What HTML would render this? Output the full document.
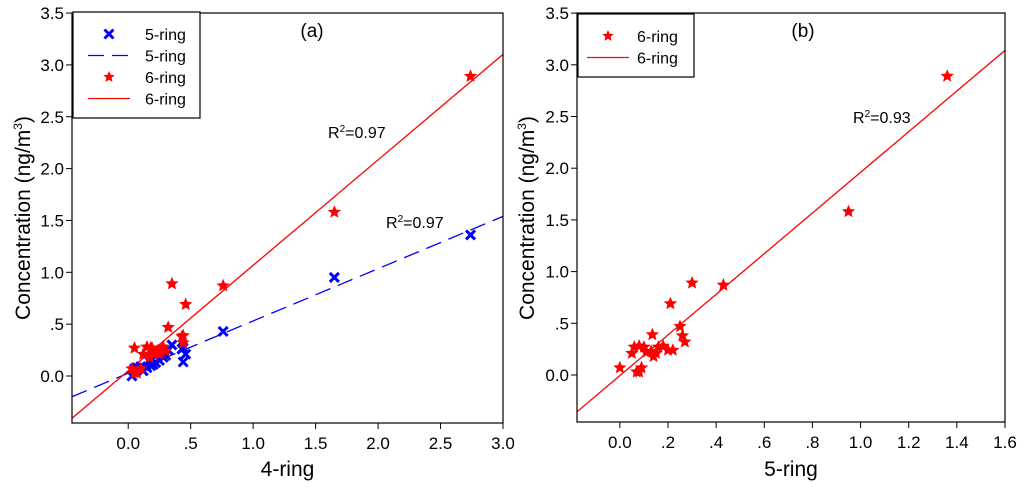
<!DOCTYPE html>
<html><head><meta charset="utf-8"><style>
body{margin:0;background:#fff;width:1024px;height:490px;overflow:hidden}
svg{font-family:"Liberation Sans",Arial,sans-serif}
</style></head><body>
<svg id="c" width="1024" height="490" xmlns="http://www.w3.org/2000/svg"></svg>
<script>
// data: each sample has 4-ring, 5-ring, 6-ring concentration
const ring4 = [0.03,0.05,0.07,0.10,0.12,0.05,0.15,0.18,0.20,0.22,0.17,0.25,0.19,0.28,0.30,0.24,0.44,0.32,0.43,0.44,0.46,0.35,0.76,1.65,2.74];
const ring5 = [0.00,0.07,0.08,0.09,0.05,0.06,0.08,0.10,0.11,0.13,0.14,0.15,0.16,0.18,0.20,0.22,0.135,0.25,0.26,0.27,0.21,0.30,0.43,0.95,1.36];
const ring6 = [0.07,0.03,0.03,0.07,0.21,0.27,0.28,0.27,0.22,0.23,0.18,0.21,0.27,0.28,0.24,0.24,0.39,0.47,0.38,0.32,0.69,0.89,0.87,1.58,2.89];
const fitA6 = [1.017,0.05];   // slope, intercept 6-ring vs 4-ring
const fitA5 = [0.504,0.027];
const fitB6 = [1.966,-0.006];
const yTicks = [0,0.5,1,1.5,2,2.5,3,3.5];
const yTickLabels = ["0.0",".5","1.0","1.5","2.0","2.5","3.0","3.5"];
const xTicksA = [0,0.5,1,1.5,2,2.5,3];
const xTickLabelsA = ["0.0",".5","1.0","1.5","2.0","2.5","3.0"];
const xTicksB = [0,0.2,0.4,0.6,0.8,1.0,1.2,1.4,1.6];
const xTickLabelsB = ["0.0",".2",".4",".6",".8","1.0","1.2","1.4","1.6"];

const svg=document.getElementById('c');
const NS='http://www.w3.org/2000/svg';
function mk(tag,attrs,parent,text){const e=document.createElementNS(NS,tag);for(const k in attrs)e.setAttribute(k,attrs[k]);if(text!==undefined)e.textContent=text;(parent||svg).appendChild(e);return e;}
function star(g,cx,cy,r){let p=[];for(let i=0;i<10;i++){const a=-Math.PI/2+i*Math.PI/5;const rr=i%2?r*0.45:r;p.push((cx+rr*Math.cos(a)).toFixed(1)+','+(cy+rr*Math.sin(a)).toFixed(1));}
 const s=mk('polygon',{points:p.join(' '),fill:'#f00'},g);
 
 }
function cross(g,cx,cy,r){const s=mk('path',{d:`M${cx-r},${cy-r}L${cx+r},${cy+r}M${cx-r},${cy+r}L${cx+r},${cy-r}`,stroke:'#00f','stroke-width':3},g);
 
 }

function panel(o){
 const g=mk('g',{});
 const sx=v=>o.L+(v-o.xmin)/(o.xmax-o.xmin)*(o.R-o.L);
 const sy=v=>o.y0-v*o.py;
 yTicks.forEach((t,i)=>{const y=sy(t);mk('line',{x1:o.L-6,x2:o.L,y1:y,y2:y,stroke:'#000'},g);
  const tl=mk('text',{x:o.L-8,y:y+6,'text-anchor':'end','font-size':17},g,yTickLabels[i]);
  });
 o.xt.forEach((t,i)=>{const x=sx(t);mk('line',{x1:x,x2:x,y1:o.B,y2:o.B+6,stroke:'#000'},g);
  const tl=mk('text',{x:x,y:o.B+26,'text-anchor':'middle','font-size':17},g,o.xl[i]);
  });
 const cid='clip'+o.name;const cp=mk('clipPath',{id:cid},g);mk('rect',{x:o.L,y:o.T,width:o.R-o.L,height:o.B-o.T},cp);
 const pg=mk('g',{'clip-path':`url(#${cid})`},g);
 o.lines.forEach(l=>{const ln=mk('line',{x1:sx(o.xmin),y1:sy(l.f[0]*o.xmin+l.f[1]),x2:sx(o.xmax),y2:sy(l.f[0]*o.xmax+l.f[1]),stroke:l.c,'stroke-width':1.3,'stroke-dasharray':l.d||''},pg);
  });
 o.series.forEach(s=>{s.x.forEach((xv,i)=>{if(s.t==='x')cross(pg,sx(xv),sy(s.y[i]),4.5);else star(pg,sx(xv),sy(s.y[i]),7);});});
 mk('rect',{x:o.L,y:o.T,width:o.R-o.L,height:o.B-o.T,fill:'none',stroke:'#000','stroke-width':1.2},g);
 const xl=mk('text',{x:(o.L+o.R)/2,y:476,'text-anchor':'middle','font-size':21},g,o.xlab);
 
 const yl=mk('text',{x:0,y:0,transform:`translate(${o.yx},218) rotate(-90)`,'text-anchor':'middle','font-size':21},g);
 
 yl.innerHTML='Concentration (ng/m<tspan dy="-8" font-size="12">3</tspan><tspan dy="8">)</tspan>';
 const pl=mk('text',{x:o.labX,y:37,'text-anchor':'middle','font-size':19},g,o.label);
 
 o.r2.forEach(r=>{const t=mk('text',{x:r[0],y:r[1],'font-size':16},g);
  t.innerHTML='R<tspan dy="-6" font-size="10">2</tspan><tspan dy="6">'+r[2]+'</tspan>';});
 const lg=mk('g',{},g);
 mk('rect',{x:o.L+1,y:o.legY,width:o.legW,height:o.leg.length*21.5+20,fill:'#fff',stroke:'#000','stroke-width':1.2},lg);
 o.leg.forEach((e,i)=>{const y=o.legY+22+i*21.5;const cx=o.L+1+o.legMx;
  if(e.t==='x')cross(lg,cx,y,4.5);else if(e.t==='s')star(lg,cx,y,6);
  else mk('line',{x1:cx-21,x2:cx+21,y1:y,y2:y,stroke:e.c,'stroke-width':1.3,'stroke-dasharray':e.d||''},lg);
  const tt=mk('text',{x:o.L+1+o.legTx,y:y+6,'font-size':16},lg,e.n);});
}
panel({name:'panel-a',L:72,R:503,T:13,B:423,xmin:-0.45,xmax:3.0,y0:376,py:103.7,xt:xTicksA,xl:xTickLabelsA,
 xlab:'4-ring',yx:30,label:'(a)',labX:312,r2:[[328,138,'=0.97'],[386,228,'=0.97']],
 lines:[{f:fitA5,c:'#00f',d:'16,8',n:'fit-line-5-ring'},{f:fitA6,c:'#f00',n:'fit-line-6-ring'}],
 series:[{x:ring4,y:ring5,t:'x'},{x:ring4,y:ring6,t:'s'}],
 legY:12,legW:127,legMx:36,legTx:72,
 leg:[{t:'x',n:'5-ring'},{t:'l',c:'#00f',d:'16,8',n:'5-ring'},{t:'s',n:'6-ring'},{t:'l',c:'#f00',n:'6-ring'}]});
panel({name:'panel-b',L:577,R:1005,T:13,B:422,xmin:-0.178,xmax:1.6,y0:375,py:103.4,xt:xTicksB,xl:xTickLabelsB,
 xlab:'5-ring',yx:534,label:'(b)',labX:803,r2:[[853,123,'=0.93']],
 lines:[{f:fitB6,c:'#f00',n:'fit-line-6-ring'}],
 series:[{x:ring5,y:ring6,t:'s'}],
 legY:14,legW:116,legMx:30,legTx:59,
 leg:[{t:'s',n:'6-ring'},{t:'l',c:'#f00',n:'6-ring'}]});
</script>
</body></html>
